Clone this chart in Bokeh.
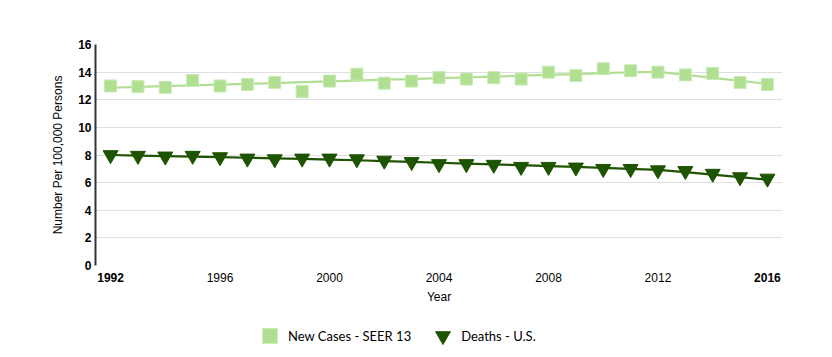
from bokeh.plotting import figure
from bokeh.models import Range1d, FixedTicker, Legend, LegendItem, LinearAxis, Grid
from bokeh.layouts import column
from bokeh.embed import file_html
from bokeh.resources import INLINE

years = list(range(1992, 2017))
new_cases = [13.0, 12.95, 12.9, 13.4, 13.0, 13.1, 13.25, 12.6, 13.35, 13.85,
             13.2, 13.35, 13.6, 13.5, 13.6, 13.5, 14.0, 13.75, 14.25, 14.1,
             14.0, 13.8, 13.9, 13.25, 13.1]
new_cases_trend = [12.87, 12.93, 12.99, 13.05, 13.1, 13.15, 13.2, 13.27, 13.33, 13.39,
                   13.45, 13.5, 13.56, 13.62, 13.68, 13.74, 13.8, 13.86, 13.93, 13.99,
                   14.02, 13.8, 13.58, 13.36, 13.15]
deaths = [8.0, 7.95, 7.9, 7.95, 7.85, 7.75, 7.7, 7.75, 7.75, 7.7,
          7.6, 7.5, 7.35, 7.35, 7.3, 7.15, 7.15, 7.1, 7.0, 7.0,
          6.9, 6.85, 6.65, 6.4, 6.3]
deaths_trend = [8.0, 7.96, 7.92, 7.88, 7.84, 7.8, 7.76, 7.72, 7.67, 7.62,
                7.56, 7.5, 7.44, 7.38, 7.32, 7.26, 7.2, 7.14, 7.07, 7.0,
                6.93, 6.76, 6.58, 6.4, 6.22]
y_ticks = [0, 2, 4, 6, 8, 10, 12, 14, 16]
x_ticks = [1996, 2000, 2004, 2008, 2012]
x_bold_ticks = [years[0], years[-1]]
series_names = ["New Cases - SEER 13", "Deaths - U.S."]

LIGHT = "#b0df92"
DARK = "#1e5300"
FONT = "Liberation Sans"

p = figure(width=832, height=313, output_backend="svg", toolbar_location=None,
           x_range=Range1d(1991.45, 2016.55), y_range=Range1d(0, 16),
           x_axis_location=None,
           min_border_left=95, min_border_right=50, min_border_top=44,
           min_border_bottom=48)
p.outline_line_color = None
p.background_fill_color = "white"
p.border_fill_color = "white"

# keep only horizontal grid lines
p.center = [r for r in p.center if not (isinstance(r, Grid) and r.dimension == 0)]
p.ygrid.grid_line_color = "#e0e0e0"
p.ygrid.grid_line_width = 1
p.ygrid.ticker = FixedTicker(ticks=y_ticks)

ya = p.yaxis[0]
ya.ticker = FixedTicker(ticks=y_ticks)
ya.axis_line_color = "#333333"
ya.axis_line_width = 2
ya.major_tick_line_color = None
ya.minor_tick_line_color = None
ya.major_tick_out = 0
ya.major_tick_in = 0
ya.major_label_text_font = FONT
ya.major_label_text_font_style = "bold"
ya.major_label_text_font_size = "12px"
ya.major_label_text_color = "black"
ya.major_label_standoff = 4
ya.axis_label = "Number Per 100,000 Persons"
ya.axis_label_text_font = FONT
ya.axis_label_text_font_style = "normal"
ya.axis_label_text_font_size = "12px"
ya.axis_label_text_color = "black"
ya.axis_label_standoff = 10


def style_x(ax, bold):
    ax.axis_line_color = None
    ax.major_tick_line_color = None
    ax.minor_tick_line_color = None
    ax.major_tick_out = 0
    ax.major_tick_in = 0
    ax.minor_tick_out = 0
    ax.minor_tick_in = 0
    ax.major_label_text_font = FONT
    ax.major_label_text_font_size = "12px"
    ax.major_label_text_color = "black"
    ax.major_label_text_font_style = "bold" if bold else "normal"


# closest to the plot: the bold end years
xb = LinearAxis(ticker=FixedTicker(ticks=x_bold_ticks))
style_x(xb, True)
xb.major_label_standoff = 7
p.add_layout(xb, "below")

# next: the regular years, pulled up onto the same line, plus the axis title
xa = LinearAxis(ticker=FixedTicker(ticks=x_ticks))
style_x(xa, False)
xa.major_label_standoff = -12
xa.axis_label = "Year"
xa.axis_label_text_font = FONT
xa.axis_label_text_font_style = "normal"
xa.axis_label_text_font_size = "12px"
xa.axis_label_text_color = "black"
xa.axis_label_standoff = 5
p.add_layout(xa, "below")

p.line(years, new_cases_trend, line_color=LIGHT, line_width=2.2)
p.line(years, deaths_trend, line_color=DARK, line_width=2.2)
p.scatter(years, new_cases, marker="square", size=12,
          fill_color=LIGHT, line_color="#c8ebb3", line_width=1)
p.scatter(years, deaths, marker="inverted_triangle", size=15,
          fill_color=DARK, line_color=DARK, line_width=1)

# legend strip under the chart (its sample markers sit outside its view)
q = figure(width=832, height=44, output_backend="svg", toolbar_location=None,
           x_range=Range1d(0, 1), y_range=Range1d(0, 1),
           x_axis_location=None, y_axis_location=None,
           min_border_left=0, min_border_right=0, min_border_top=0,
           min_border_bottom=0)
q.outline_line_color = None
q.center = [r for r in q.center if not isinstance(r, Grid)]
lr1 = q.scatter(x=[years[0]], y=[new_cases[0]], marker="square", fill_color=LIGHT,
                line_color="#c8ebb3", line_width=1)
lr2 = q.scatter(x=[years[0]], y=[deaths[0]], marker="inverted_triangle",
                fill_color=DARK, line_color=DARK, line_width=1)
legend = Legend(items=[LegendItem(label=series_names[0], renderers=[lr1]),
                       LegendItem(label=series_names[1], renderers=[lr2])],
                orientation="horizontal", location=(156, 3),
                glyph_width=37, glyph_height=37, label_standoff=0,
                spacing=13, padding=0, margin=0,
                label_text_font="Lato", label_text_font_size="13px",
                label_text_color="black",
                border_line_color=None, background_fill_alpha=0)
q.add_layout(legend, "center")

open("out.html", "w").write(file_html(column(p, q, spacing=0), INLINE))
